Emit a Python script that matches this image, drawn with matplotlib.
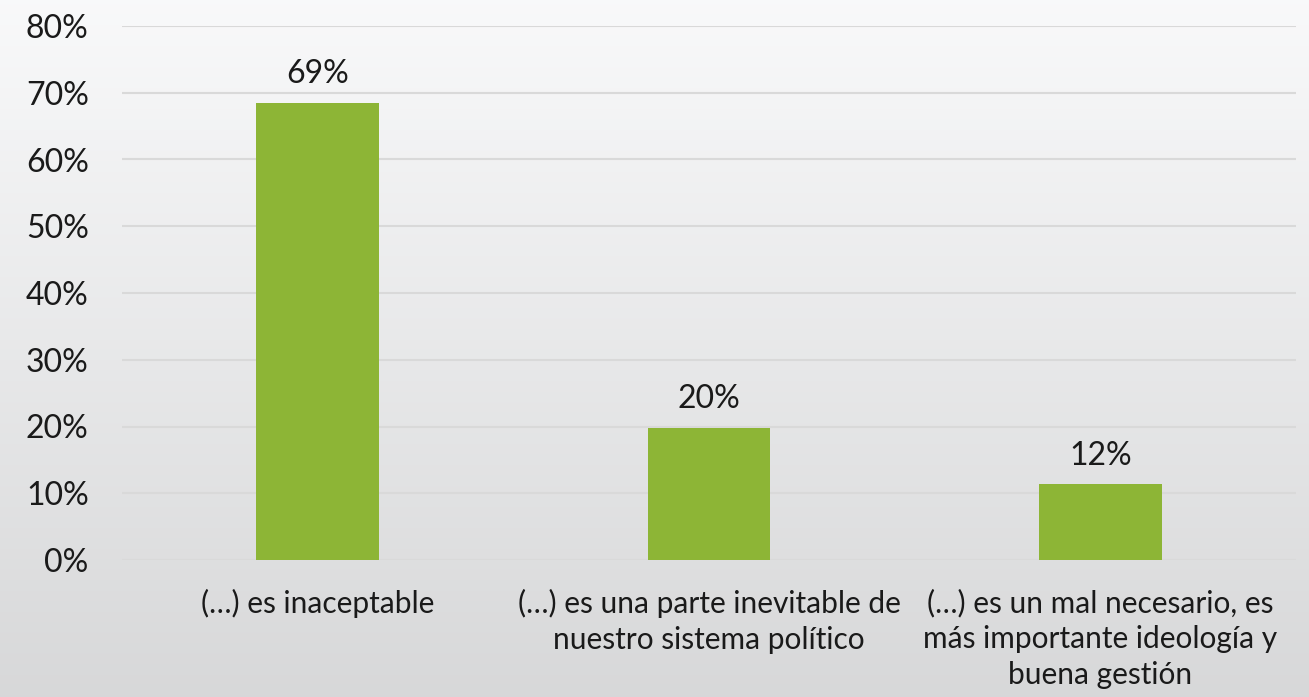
import numpy as np
import matplotlib
matplotlib.use("Agg")
import matplotlib.pyplot as plt
from matplotlib.ticker import FuncFormatter

# data
categories = ["(…) es inaceptable",
              "(…) es una parte inevitable de\nnuestro sistema político",
              "(…) es un mal necesario, es\nmás importante ideología y\nbuena gestión"]
values = [68.5, 19.8, 11.4]
labels = ["69%", "20%", "12%"]

plt.rcParams['font.family'] = ['Lato', 'DejaVu Sans']

fig = plt.figure(figsize=(13.09, 6.97), dpi=100)

# grey gradient background
bg = fig.add_axes([0, 0, 1, 1], zorder=0)
grad = np.linspace(0.975, 0.845, 256).reshape(-1, 1)
bg.imshow(np.dstack([grad, grad + 0.002, grad + 0.006]).clip(0, 1),
          aspect='auto', extent=[0, 1, 0, 1])
bg.axis('off')

ax = fig.add_axes([122/1309, 137/697, 1174/1309, 534/697], zorder=1)
ax.set_facecolor('none')

x = np.arange(len(categories))
ax.bar(x, values, width=0.314, color='#8db536', zorder=3)
for xi, v, lab in zip(x, values, labels):
    ax.text(xi, v + 2.0, lab, ha='center', va='bottom', fontsize=23, color='#1a1a1a')

ax.set_xlim(-0.5, 2.5)
ax.set_ylim(0, 80)
ax.set_yticks(np.arange(0, 81, 10))
ax.yaxis.set_major_formatter(FuncFormatter(lambda v, p: f"{v:.0f}%"))
ax.set_xticks(x)
ax.set_xticklabels(categories, fontsize=21.5, linespacing=1.33, color='#1a1a1a')
ax.tick_params(axis='y', length=0, pad=24, labelsize=23, colors='#1a1a1a')
ax.tick_params(axis='x', length=0, pad=21)
ax.grid(axis='y', color='#d9d9d9', linewidth=1.5, zorder=0)
for s in ax.spines.values():
    s.set_visible(False)

fig.savefig("out.png", dpi=100)
